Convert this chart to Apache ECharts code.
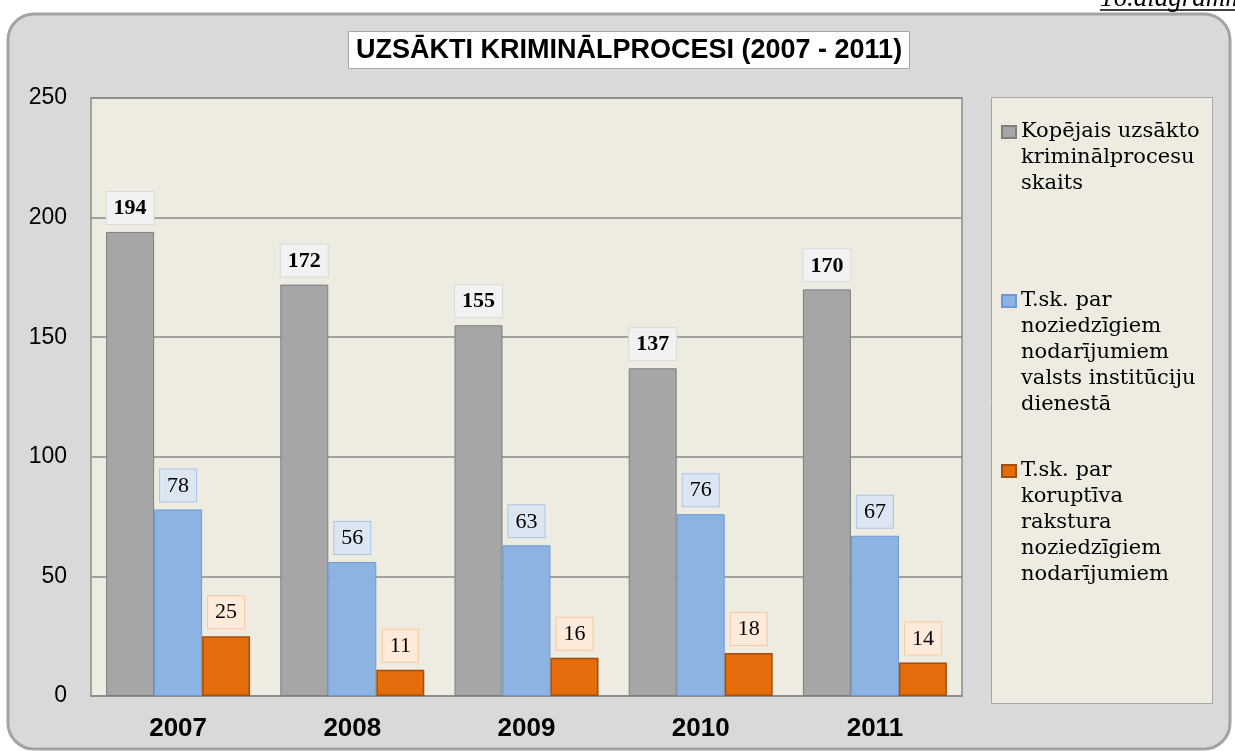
<!DOCTYPE html>
<html>
<head>
<meta charset="utf-8">
<script src="https://cdn.jsdelivr.net/npm/echarts@6/dist/echarts.min.js"></script>
<style>
html,body{margin:0;padding:0;background:#ffffff;}
#chart{width:1235px;height:751px;}
</style>
</head>
<body>
<div id="chart"></div>
<script>
const categories = ['2007', '2008', '2009', '2010', '2011'];
const totalCases = [194, 172, 155, 137, 170];
const stateServiceCases = [78, 56, 63, 76, 67];
const corruptionCases = [25, 11, 16, 18, 14];
const seriesNames = [
  'Kopējais uzsākto\nkriminālprocesu\nskaits',
  'T.sk. par\nnoziedzīgiem\nnodarījumiem\nvalsts institūciju\ndienestā',
  'T.sk. par\nkoruptīva\nrakstura\nnoziedzīgiem\nnodarījumiem'
];
const titleText = 'UZSĀKTI KRIMINĀLPROCESI (2007 - 2011)';
const cornerNote = '16.diagramma';
const yTicks = { min: 0, max: 250, interval: 50 };

const chart = echarts.init(document.getElementById('chart'), null, { renderer: 'canvas' });

const LH = 26;
function legendFor(idx, iconCenterY) {
  const name = seriesNames[idx];
  const n = name.split('\n').length;
  return {
    data: [name],
    orient: 'vertical',
    left: 1001,
    top: iconCenterY - (2 * n - 1) * LH / 2,
    padding: 0,
    icon: 'rect',
    itemWidth: 14,
    itemHeight: 12,
    selectedMode: false,
    formatter: function (nm) {
      const k = nm.split('\n').length;
      return ' \n'.repeat(k - 1) + nm;
    },
    textStyle: {
      fontFamily: 'DejaVu Serif',
      fontSize: 21,
      color: '#000',
      lineHeight: LH
    }
  };
}

function labelStyle(bg, border, bold) {
  return {
    show: true,
    position: 'top',
    distance: 8,
    fontFamily: 'Liberation Serif',
    fontSize: 22,
    fontWeight: bold ? 'bold' : 'normal',
    color: '#000',
    lineHeight: 23,
    backgroundColor: bg,
    borderColor: border,
    borderWidth: 1,
    padding: [5, 7, 4, 7]
  };
}

const option = {
  backgroundColor: '#ffffff',
  animation: false,
  title: {
    text: titleText,
    left: 348,
    top: 31,
    padding: [5, 8, 4, 8],
    backgroundColor: '#ffffff',
    borderColor: '#a6a6a6',
    borderWidth: 1,
    textStyle: {
      fontFamily: 'Liberation Sans',
      fontWeight: 'bold',
      fontSize: 27,
      lineHeight: 29,
      color: '#000'
    }
  },
  graphic: [
    {
      type: 'rect',
      z: -100,
      shape: { x: 8, y: 14, width: 1222, height: 735, r: 26 },
      style: { fill: '#d9d9d9', stroke: '#a3a3a3', lineWidth: 3 }
    },
    {
      type: 'rect',
      z: -50,
      shape: { x: 991.5, y: 97.5, width: 221, height: 606 },
      style: { fill: '#eeece1', stroke: '#a6a6a6', lineWidth: 1 }
    },
    {
      type: 'text',
      x: 1100,
      y: -1,
      style: {
        text: cornerNote,
        fontFamily: 'Liberation Serif',
        fontStyle: 'italic',
        fontSize: 27,
        fill: '#000',
        verticalAlign: 'middle'
      }
    },
    {
      type: 'line',
      shape: { x1: 1100, y1: 10, x2: 1240, y2: 10 },
      style: { stroke: '#000', lineWidth: 1.5 }
    }
  ],
  legend: [
    legendFor(0, 132),
    legendFor(1, 301),
    legendFor(2, 471)
  ],
  grid: {
    left: 91,
    right: 273,
    top: 98,
    bottom: 55,
    show: true,
    backgroundColor: '#eeece1',
    borderColor: '#8c8c8c',
    borderWidth: 1.5
  },
  xAxis: {
    type: 'category',
    data: categories,
    axisTick: { show: false },
    axisLine: { show: true, lineStyle: { color: '#8c8c8c', width: 1.5 } },
    axisLabel: {
      margin: 20,
      fontFamily: 'Liberation Sans',
      fontWeight: 'bold',
      fontSize: 26,
      color: '#000'
    }
  },
  yAxis: {
    type: 'value',
    min: yTicks.min,
    max: yTicks.max,
    interval: yTicks.interval,
    axisLine: { show: false },
    axisTick: { show: false },
    splitLine: { show: true, lineStyle: { color: '#8a8a8a', width: 1.5 } },
    axisLabel: {
      margin: 24,
      fontFamily: 'Liberation Sans',
      fontSize: 23,
      color: '#000'
    }
  },
  series: [
    {
      name: seriesNames[0],
      type: 'bar',
      data: totalCases,
      barWidth: 48,
      barGap: '0%',
      itemStyle: { color: '#a6a6a6', borderColor: '#7f7f7f', borderWidth: 1 },
      label: labelStyle('#f2f2f2', '#d9d9d9', true)
    },
    {
      name: seriesNames[1],
      type: 'bar',
      data: stateServiceCases,
      barWidth: 48,
      barGap: '0%',
      itemStyle: { color: '#8db3e2', borderColor: '#6a9ad8', borderWidth: 1 },
      label: labelStyle('#dce6f2', '#a9c4e8', false)
    },
    {
      name: seriesNames[2],
      type: 'bar',
      data: corruptionCases,
      barWidth: 48,
      barGap: '0%',
      itemStyle: { color: '#e46c0a', borderColor: '#a24e0c', borderWidth: 1.5 },
      label: labelStyle('#fdeada', '#fac89e', false)
    }
  ]
};

chart.setOption(option);
</script>
</body>
</html>
